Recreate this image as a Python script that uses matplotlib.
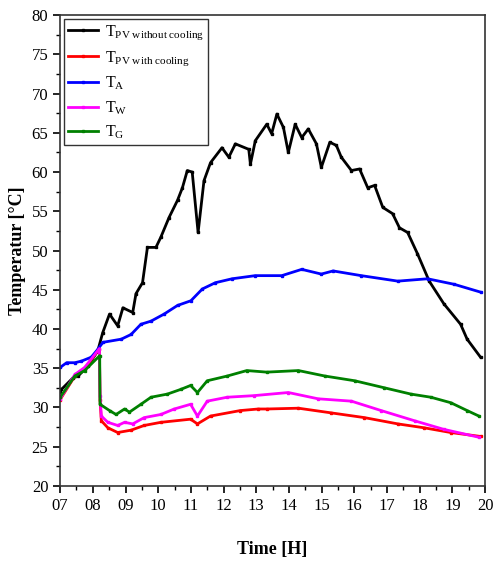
import matplotlib
matplotlib.use('Agg')
import matplotlib.pyplot as plt
from matplotlib.ticker import MultipleLocator, FixedLocator

plt.rcParams['font.family'] = 'Liberation Serif'
plt.rcParams['mathtext.fontset'] = 'custom'
plt.rcParams['mathtext.rm'] = 'Liberation Serif'
plt.rcParams['mathtext.it'] = 'Liberation Serif:italic'

# time in hours
t_pv = [7.0, 7.04, 7.4, 7.55, 7.85, 8.15, 8.3, 8.51, 8.76, 8.92, 9.22, 9.32, 9.52, 9.67,
        9.93, 10.08, 10.33, 10.59, 10.74, 10.89, 11.04, 11.22, 11.40, 11.60, 11.95,
        12.16, 12.36, 12.77, 12.82, 12.97, 13.32, 13.47, 13.63, 13.83, 13.98, 14.19,
        14.39, 14.59, 14.84, 14.99, 15.25, 15.45, 15.60, 15.91, 16.16, 16.41, 16.62,
        16.87, 17.17, 17.38, 17.63, 17.93, 18.29, 18.74, 19.25, 19.45, 19.86]
pv_no_cool = [32.0, 32.3, 33.8, 34.0, 35.3, 37.2, 39.5, 41.9, 40.4, 42.7, 42.1, 44.5, 45.9, 50.4,
              50.4, 51.7, 54.2, 56.4, 58.0, 60.2, 60.0, 52.3, 58.9, 61.2, 63.1,
              61.9, 63.6, 62.9, 61.0, 64.0, 66.1, 64.9, 67.4, 65.7, 62.5, 66.1,
              64.4, 65.5, 63.6, 60.6, 63.8, 63.4, 61.9, 60.2, 60.4, 58.0, 58.3,
              55.5, 54.7, 52.9, 52.3, 49.6, 46.1, 43.2, 40.6, 38.7, 36.4]

t_pvc = [7.0, 7.45, 7.75, 8.2, 8.22, 8.26, 8.46, 8.76, 9.17, 9.57, 10.08, 10.99, 11.2, 11.6,
         12.51, 13.06, 13.32, 14.29, 15.30, 16.31, 17.33, 18.14, 18.95, 19.86]
pv_cool = [31.0, 34.0, 34.9, 37.5, 31.0, 28.3, 27.4, 26.8, 27.1, 27.7, 28.1, 28.5, 27.9, 28.9,
           29.6, 29.8, 29.8, 29.9, 29.3, 28.7, 27.9, 27.4, 26.8, 26.3]

t_a = [7.0, 7.2, 7.45, 7.65, 7.95, 8.15, 8.31, 8.87, 9.17, 9.47, 9.78, 10.18, 10.59, 11.0,
       11.35, 11.75, 12.26, 12.97, 13.78, 14.39, 14.99, 15.35, 16.21, 17.33, 18.24, 19.05, 19.86]
t_amb = [35.1, 35.7, 35.7, 35.9, 36.4, 37.4, 38.3, 38.7, 39.3, 40.6, 41.0, 41.9, 43.0, 43.6,
         45.1, 45.9, 46.4, 46.8, 46.8, 47.6, 47.0, 47.4, 46.8, 46.1, 46.4, 45.7, 44.7]

t_w = [7.0, 7.45, 7.75, 8.2, 8.22, 8.26, 8.46, 8.76, 8.97, 9.22, 9.57, 10.08, 10.49, 10.99,
       11.2, 11.5, 12.11, 12.92, 13.98, 14.89, 15.91, 16.82, 17.84, 18.74, 19.81]
t_water = [31.1, 34.2, 35.1, 37.5, 31.5, 28.9, 28.1, 27.7, 28.1, 27.9, 28.7, 29.1, 29.8, 30.4,
           28.9, 30.8, 31.3, 31.5, 31.9, 31.1, 30.8, 29.6, 28.3, 27.2, 26.2]

t_g = [7.0, 7.45, 7.75, 8.21, 8.22, 8.51, 8.71, 8.97, 9.12, 9.47, 9.78, 10.28, 10.69, 10.99,
       11.2, 11.5, 12.11, 12.71, 13.32, 14.29, 15.10, 16.01, 16.92, 17.73, 18.34, 18.95,
       19.45, 19.81]
t_glass = [31.3, 34.0, 34.7, 36.6, 30.4, 29.6, 29.1, 29.8, 29.4, 30.4, 31.3, 31.7, 32.3, 32.8,
           31.9, 33.4, 34.0, 34.7, 34.5, 34.7, 34.0, 33.4, 32.5, 31.7, 31.3, 30.6,
           29.6, 28.9]

x_ticks = list(range(7, 21))
x_labels = [f'{h:02d}' for h in x_ticks]

fig = plt.figure(figsize=(4.93, 5.63), dpi=100)
ax = fig.add_axes([0.122, 0.137, 0.862, 0.836])

series = [
    (t_pv, pv_no_cool, 'black', r'$\mathregular{T_{PV\ without\ cooling}}$'),
    (t_pvc, pv_cool, '#ff0000', r'$\mathregular{T_{PV\ with\ cooling}}$'),
    (t_a, t_amb, '#0000ff', r'$\mathregular{T_{A}}$'),
    (t_w, t_water, '#ff00ff', r'$\mathregular{T_{W}}$'),
    (t_g, t_glass, '#008000', r'$\mathregular{T_{G}}$'),
]
for x, y, c, lab in series:
    ax.plot(x, y, color=c, lw=2.0, marker='s', ms=2, label=lab)

ax.set_xlim(7, 20)
ax.set_ylim(20, 80)
ax.xaxis.set_major_locator(FixedLocator(x_ticks))
ax.set_xticklabels(x_labels)
ax.xaxis.set_minor_locator(MultipleLocator(0.5))
ax.yaxis.set_major_locator(MultipleLocator(5))
ax.yaxis.set_minor_locator(MultipleLocator(2.5))
ax.tick_params(which='major', direction='out', length=5, width=1.2, labelsize=12,
               top=False, right=False)
ax.tick_params(which='minor', direction='out', length=3, width=1.0, top=False, right=False)
for s in ax.spines.values():
    s.set_linewidth(1.2)
    s.set_color('#333333')

ax.set_xlabel('Time [H]', fontsize=13, fontweight='bold', labelpad=20)
ax.set_ylabel('Temperatur [°C]', fontsize=13, fontweight='bold', labelpad=4)

leg = ax.legend(loc='upper left', fontsize=11.5, handlelength=1.9, handletextpad=0.4,
                labelspacing=0.45, borderpad=0.25, borderaxespad=0.25,
                fancybox=False, edgecolor='#333333', framealpha=1)
leg.get_frame().set_linewidth(1.0)

fig.savefig('out.png', dpi=100)
